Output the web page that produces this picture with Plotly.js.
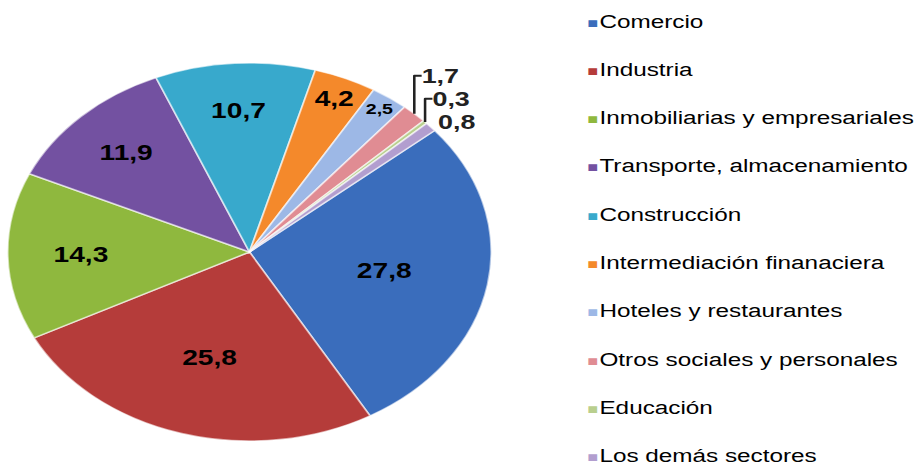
<!DOCTYPE html>
<html>
<head>
<meta charset="utf-8">
<script src="https://cdn.plot.ly/plotly-3.0.1.min.js"></script>
<style>
html,body{margin:0;padding:0;background:#ffffff;overflow:hidden;width:916px;height:470px}
#chart{width:716px;height:470px;transform:scaleX(1.2793);transform-origin:0 0}
</style>
</head>
<body>
<div id="chart"></div>
<script>
// Data (percent shares)
const categories = [
  "Comercio",
  "Industria",
  "Inmobiliarias y empresariales",
  "Transporte, almacenamiento",
  "Construcción",
  "Intermediación finanaciera",
  "Hoteles y restaurantes",
  "Otros sociales y personales",
  "Educación",
  "Los demás sectores"
];
const values = [27.8, 25.8, 14.3, 11.9, 10.7, 4.2, 2.5, 1.7, 0.3, 0.8];
const colors = [
  "#3a6dbc", "#b53c3a", "#8fb83e", "#7351a1", "#38a9cc",
  "#f4892b", "#9db8e6", "#e08c93", "#b9cf8e", "#b29ecf"
];

const labelFont = { family: "Liberation Sans, Arial, sans-serif", size: 22, color: "#000000", weight: "bold" };

const trace = {
  type: "pie",
  labels: categories,
  values: values,
  sort: false,
  direction: "clockwise",
  rotation: 50,
  marker: { colors: colors, line: { color: "rgba(255,255,255,0.6)", width: 1.5 } },
  textinfo: "value",
  textposition: values.map(v => v >= 2 ? "inside" : "outside"),
  insidetextorientation: "horizontal",
  textfont: labelFont,
  outsidetextfont: { family: labelFont.family, size: 21, color: "#222222", weight: "bold" },
  insidetextfont: labelFont,
  hoverinfo: "label+value",
  showlegend: false,
  automargin: false,
  domain: { x: [0.0084, 0.5363], y: [0.0617, 0.8660] }
};

// Legend drawn as text rows
const annotations = categories.map((c, i) => ({
  xref: "paper", yref: "paper",
  x: 457 / 716, y: 1 - (21 + i * 48.3) / 470,
  xanchor: "left", yanchor: "middle",
  showarrow: false,
  align: "left",
  text: '<span style="color:' + colors[i] + ';font-size:14px">■</span><span style="font-size:4px"> </span>' + c,
  font: { family: "Liberation Sans, Arial, sans-serif", size: 19, color: "#000000" }
}));

const layout = {
  width: 716,
  height: 470,
  margin: { l: 0, r: 0, t: 0, b: 0, pad: 0 },
  paper_bgcolor: "#ffffff",
  plot_bgcolor: "#ffffff",
  separators: ",.",
  showlegend: false,
  annotations: annotations
};

Plotly.newPlot("chart", [trace], layout, { displayModeBar: false, staticPlot: true });
</script>
</body>
</html>
